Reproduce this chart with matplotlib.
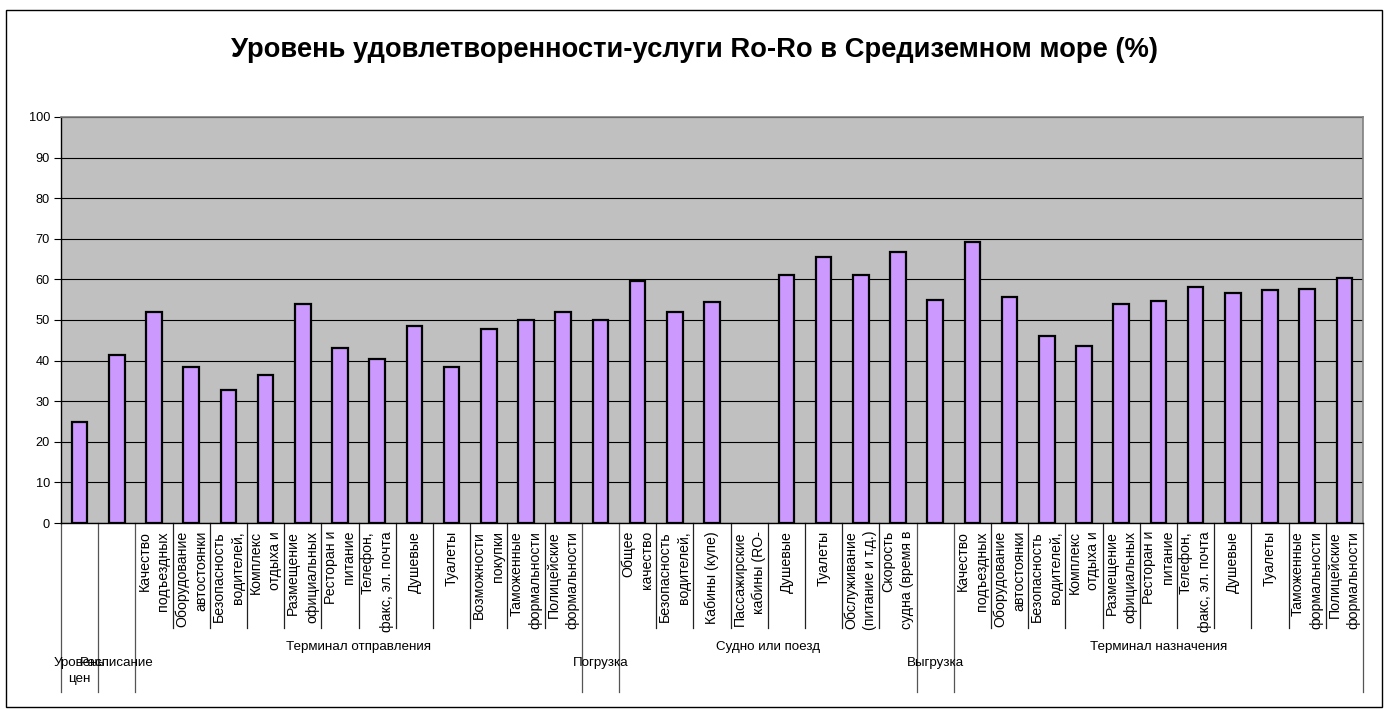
import numpy as np
import matplotlib
matplotlib.use("Agg")
import matplotlib.pyplot as plt
from matplotlib.patches import Rectangle
from matplotlib.transforms import blended_transform_factory

plt.rcParams['font.family'] = ['Liberation Sans', 'DejaVu Sans']

title = "Уровень удовлетворенности-услуги Ro-Ro в Средиземном море (%)"

group_names = ["Уровень цен", "Расписание", "Терминал отправления", "Погрузка",
               "Судно или поезд", "Выгрузка", "Терминал назначения"]
group_sizes = [1, 1, 12, 1, 8, 1, 11]

categories = [
    "", "",
    "Качество\nподъездных", "Оборудование\nавтостоянки", "Безопасность\nводителей,",
    "Комплекс\nотдыха и", "Размещение\nофициальных", "Ресторан и\nпитание",
    "Телефон,\nфакс, эл. почта", "Душевые", "Туалеты", "Возможности\nпокупки",
    "Таможенные\nформальности", "Полицейские\nформальности",
    "",
    "Общее\nкачество", "Безопасность\nводителей,", "Кабины (купе)",
    "Пассажирские\nкабины (RO-", "Душевые", "Туалеты",
    "Обслуживание\n(питание и т.д.)", "Скорость\nсудна (время в",
    "",
    "Качество\nподъездных", "Оборудование\nавтостоянки", "Безопасность\nводителей,",
    "Комплекс\nотдыха и", "Размещение\nофициальных", "Ресторан и\nпитание",
    "Телефон,\nфакс, эл. почта", "Душевые", "Туалеты",
    "Таможенные\nформальности", "Полицейские\nформальности",
]

values = [25.0, 41.5,
          52.0, 38.5, 32.8, 36.5, 53.9, 43.2, 40.3, 48.4, 38.4, 47.9, 49.9, 52.0,
          49.9,
          59.5, 51.9, 54.5, None, 61.2, 65.4, 61.2, 66.7,
          54.9,
          69.1, 55.7, 46.1, 43.7, 53.9, 54.8, 58.2, 56.7, 57.4, 57.6, 60.3]

yticks = list(range(0, 101, 10))

W, H = 1389, 709
fig = plt.figure(figsize=(W / 100, H / 100), dpi=100)

def fx(px):
    return px / W

def fy(py):
    return 1 - py / H

ax_left, ax_right, ax_top, ax_bottom = 61, 1363, 117, 523
ax = fig.add_axes([fx(ax_left), fy(ax_bottom), fx(ax_right - ax_left), (ax_bottom - ax_top) / H])
ax_h = ax_bottom - ax_top

n = len(categories)
x = np.arange(n)
vals = np.array([np.nan if v is None else v for v in values], dtype=float)

ax.set_facecolor('#C0C0C0')
ax.bar(x, vals, width=0.42, color='#CC99FF', edgecolor='black', linewidth=1.6, zorder=3)
ax.set_xlim(-0.5, n - 0.5)
ax.set_ylim(0, 100)
ax.set_yticks(yticks)
ax.set_yticklabels([str(t) for t in yticks], fontsize=9.2)
ax.yaxis.grid(True, color='black', linewidth=0.8, zorder=1)
ax.set_axisbelow(True)
ax.tick_params(axis='y', direction='out', length=5, width=0.8, pad=3, colors='black')
ax.set_xticks([])

for s in ['top', 'right']:
    ax.spines[s].set_color('#808080')
    ax.spines[s].set_linewidth(1.2)
for s in ['left', 'bottom']:
    ax.spines[s].set_color('black')
    ax.spines[s].set_linewidth(1.0)

trans = blended_transform_factory(ax.transData, ax.transAxes)

inner_bottom = -(628 - ax_bottom) / ax_h
group_bottom = -(692 - ax_bottom) / ax_h

# group boundaries
bounds = np.concatenate([[0], np.cumsum(group_sizes)])
group_edges = set(bounds.tolist())
for b in range(0, n + 1):
    xb = b - 0.5
    if b in group_edges:
        ax.plot([xb, xb], [0, group_bottom], transform=trans, color='#555555',
                linewidth=0.9, clip_on=False)
    else:
        ax.plot([xb, xb], [0, inner_bottom], transform=trans, color='#222222',
                linewidth=0.9, clip_on=False)

# level-1 labels
lab_top = -(531 - ax_bottom) / ax_h
for i, lab in enumerate(categories):
    if lab:
        ax.text(i, lab_top, lab, transform=trans, rotation=90, ha='center', va='top',
                multialignment='right', fontsize=10.2, linespacing=1.45)

# level-2 labels
grp_y = -(647 - ax_bottom) / ax_h
single_y = -(657 - ax_bottom) / ax_h
for name, b0, size in zip(group_names, bounds[:-1], group_sizes):
    cx = b0 + (size - 1) / 2
    if size > 1:
        ax.text(cx, grp_y, name, transform=trans, ha='center', va='center', fontsize=9.6)
    else:
        ax.text(cx, single_y, name.replace(" ", "\n"), transform=trans, ha='center',
                va='top', fontsize=9.6, linespacing=1.45)

fig.text(0.5, fy(50), title, ha='center', va='center', fontsize=19.7, fontweight='bold')

fig.patches.append(Rectangle((fx(6), fy(707)), fx(1382 - 6), (707 - 10) / H,
                             transform=fig.transFigure, fill=False,
                             edgecolor='black', linewidth=1.0))

fig.savefig('out.png', dpi=100, facecolor='white')
